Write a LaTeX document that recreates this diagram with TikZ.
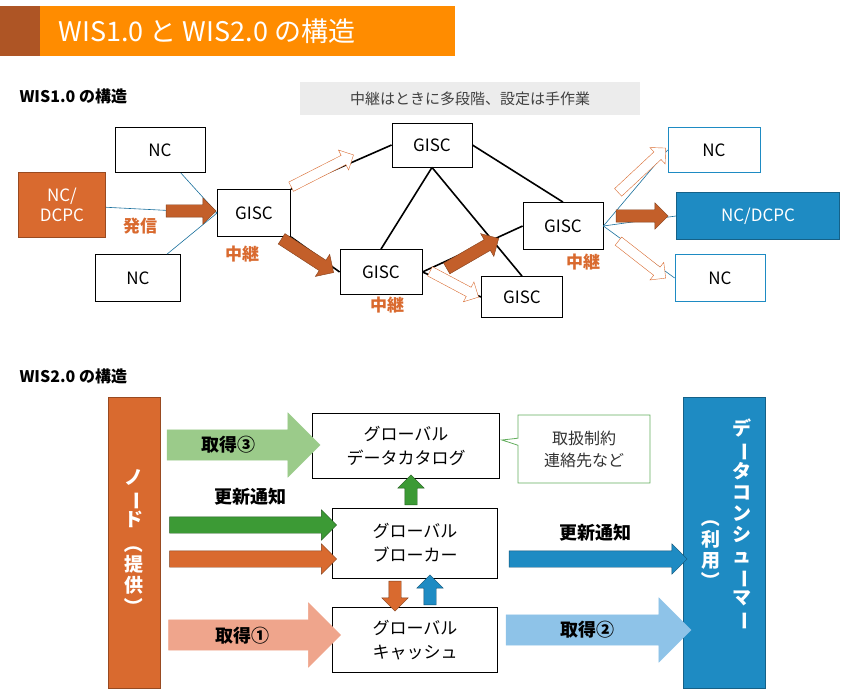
\documentclass[tikz,border=0pt]{standalone}
\usepackage{fontspec}
\setmainfont{Noto Sans CJK JP}
\usetikzlibrary{shapes.arrows,shapes.callouts}
\definecolor{wisor}{HTML}{D96A2F}
\definecolor{wisbl}{HTML}{1E8BC3}
\definecolor{wisgr}{HTML}{3C9A35}
\definecolor{lor}{HTML}{EFA58C}
\definecolor{lbl}{HTML}{8EC3E8}
\definecolor{lgr}{HTML}{9BCB8A}
\tikzset{
  box/.style={draw,thick,fill=white,inner sep=0pt,font=\fontsize{17}{20}\selectfont,align=center},
  link/.style={wisbl!80!black,semithick},
  net/.style={black,line width=1.6pt},
  fat/.style 2 args={single arrow,draw,inner xsep=0pt,inner ysep=#1,single arrow head indent=0pt,
    single arrow head extend=#2,minimum width=0pt},
  relay/.style={wisor,font=\bfseries\fontsize{17}{20}\selectfont},
  lab/.style={font=\bfseries\fontsize{18}{20}\selectfont}
}
\begin{document}
\begin{tikzpicture}[x=1pt,y=-1pt]
\useasboundingbox (0,0) rectangle (846,695);
% title
\fill[wisor!80!black] (0,6) rectangle (40,56);
\fill[orange!90!yellow] (40,6) rectangle (455,56);
\node[white,anchor=west,font=\fontsize{27}{30}\selectfont] (title) at (55,31) {WIS1.0 と WIS2.0 の構造};
\node[anchor=west,font=\bfseries\fontsize{16}{20}\selectfont] (h1) at (16,96) {WIS1.0 の構造};
\node[fill=gray!15,minimum width=340,minimum height=33,font=\fontsize{15}{18}\selectfont,text=black!75] (note) at (470,99) {中継はときに多段階、設定は手作業};

% WIS1.0 nodes
\node[box,minimum width=90,minimum height=45] (nc1) at (160,150) {NC};
\node[box,fill=wisor,draw=wisor!70!black,text=white,minimum width=87,minimum height=65] (src) at (62,205) {NC/\\DCPC};
\node[box,minimum width=85,minimum height=47] (nc2) at (138,278) {NC};
\node[box,minimum width=73,minimum height=47] (g1) at (254,213) {GISC};
\node[box,minimum width=80,minimum height=44] (gt) at (432,145) {GISC};
\node[box,minimum width=82,minimum height=45] (gm) at (381,272) {GISC};
\node[box,minimum width=81,minimum height=41] (gl) at (522,297) {GISC};
\node[box,minimum width=80,minimum height=47] (gr) at (563,226) {GISC};
\node[box,draw=wisbl,minimum width=92,minimum height=45] (nc3) at (714,150) {NC};
\node[box,fill=wisbl,draw=wisbl!70!black,text=white,minimum width=163,minimum height=47] (dst) at (758,216) {NC/DCPC};
\node[box,draw=wisbl,minimum width=90,minimum height=47] (nc4) at (720,278) {NC};

\draw[link] (nc1) -- (g1.west);
\draw[link] (src) -- (g1.west);
\draw[link] (nc2) -- (g1.west);
\draw[link] (gr.east) -- (nc3.west);
\draw[link] (gr.east) -- (dst.west);
\draw[link] (gr.east) -- (nc4.west);
\draw[net] (g1.north east) -- (gt.west);
\draw[net] (g1.south east) -- (gm.west);
\draw[net] (gt.east) -- (gr.north);
\draw[net] (gt.south) -- (gm.north);
\draw[net] (gt.south) -- (gl.north);
\draw[net] (gm.east) -- (gr.west);
\draw[net] (gm.east) -- (gl.west);

% relay arrows
\node[fat={6pt}{7pt},fill=wisor!90!black,draw=wisor!60!black,minimum height=50] (f1) at (188,211) {};
\node[fat={6pt}{7pt},fill=wisor!90!black,draw=wisor!60!black,minimum height=62,rotate=-33] (f2) at (305,254) {};
\node[fat={6pt}{7pt},fill=wisor!90!black,draw=wisor!60!black,minimum height=60,rotate=30] (f3) at (470,255) {};
\node[fat={6pt}{7pt},fill=wisor!90!black,draw=wisor!60!black,minimum height=52] (f4) at (639,216) {};
\node[fat={5pt}{6pt},fill=white,draw=wisor,minimum height=70,rotate=27] (o1) at (320,172) {};
\node[fat={5pt}{6pt},fill=white,draw=wisor,minimum height=55,rotate=-28] (o2) at (452,283) {};
\node[fat={5pt}{6pt},fill=white,draw=wisor,minimum height=65,rotate=43] (o3) at (640,172) {};
\node[fat={5pt}{6pt},fill=white,draw=wisor,minimum height=60,rotate=-38] (o4) at (640,258) {};
\node[relay] (r0) at (140,226) {発信};
\node[relay] (r1) at (242,254) {中継};
\node[relay] (r2) at (387,305) {中継};
\node[relay] (r3) at (583,262) {中継};

% WIS2.0
\node[anchor=west,font=\bfseries\fontsize{16}{20}\selectfont] (h2) at (16,376) {WIS2.0 の構造};
\node[fill=wisor,draw=wisor!70!black,minimum width=52,minimum height=291,inner sep=0pt] (node) at (134,543) {};
\node[white,font=\bfseries\fontsize{19}{21}\selectfont,align=center] at (node) {ノ\\\rotatebox[origin=c]{-90}{ー}\\ド\\[3pt]\rotatebox[origin=c]{-90}{（}\\提\\供\\\rotatebox[origin=c]{-90}{）}};
\node[fill=wisbl,draw=wisbl!70!black,minimum width=82,minimum height=291,inner sep=0pt] (cons) at (724,543) {};
\node[white,font=\bfseries\fontsize{19}{21}\selectfont,align=center,anchor=north] at (742,415) {デ\\\rotatebox[origin=c]{-90}{ー}\\タ\\コ\\ン\\シ\\ュ\\\rotatebox[origin=c]{-90}{ー}\\マ\\\rotatebox[origin=c]{-90}{ー}};
\node[white,font=\bfseries\fontsize{19}{21}\selectfont,align=center,anchor=north] at (711,505) {\rotatebox[origin=c]{-90}{（}\\利\\用\\\rotatebox[origin=c]{-90}{）}};

\node[box,minimum width=187,minimum height=65,font=\fontsize{17}{24}\selectfont] (cat) at (406,446) {グローバル\\データカタログ};
\node[box,minimum width=165,minimum height=70,font=\fontsize{17}{24}\selectfont] (brk) at (415,543) {グローバル\\ブローカー};
\node[box,minimum width=165,minimum height=65,font=\fontsize{17}{24}\selectfont] (cch) at (415,640) {グローバル\\キャッシュ};
\node[rectangle callout,draw=wisgr!80,thick,fill=white,minimum width=132,minimum height=68,
  font=\fontsize{16}{22}\selectfont,text=black!80,align=center,callout absolute pointer={(502,440)}] (memo) at (584,449) {取扱制約\\連絡先など};

\node[fat={15pt}{17pt},fill=lgr,draw=lgr,minimum height=153] (a3) at (236,445) {};
\node[lab] at (228,445) {取得③};
\node[lab] (upd1) at (250,497) {更新通知};
\node[fat={8pt}{7pt},fill=wisgr,draw=wisgr!60!black,minimum height=167] (ug) at (249,525) {};
\node[fat={8pt}{7pt},fill=wisor,draw=wisor!60!black,minimum height=167] (uo) at (249,559) {};
\node[fat={8pt}{7pt},fill=wisbl,draw=wisbl!60!black,minimum height=178] (ub) at (594,559) {};
\node[lab] (upd2) at (595,533) {更新通知};
\node[fat={15pt}{17pt},fill=lor,draw=lor,minimum height=172] (a1) at (247,635) {};
\node[lab] at (242,636) {取得①};
\node[fat={15pt}{17pt},fill=lbl,draw=lbl,minimum height=185] (a2) at (591,630) {};
\node[lab] at (587,630) {取得②};
\node[fat={6pt}{7pt},fill=wisgr,draw=wisgr!60!black,minimum height=30,rotate=90] (vg) at (411,493) {};
\node[fat={6pt}{7pt},fill=wisor,draw=wisor!60!black,minimum height=30,rotate=-90] (vo) at (395,593) {};
\node[fat={6pt}{7pt},fill=wisbl,draw=wisbl!60!black,minimum height=30,rotate=90] (vb) at (430,593) {};
\end{tikzpicture}
\end{document}
